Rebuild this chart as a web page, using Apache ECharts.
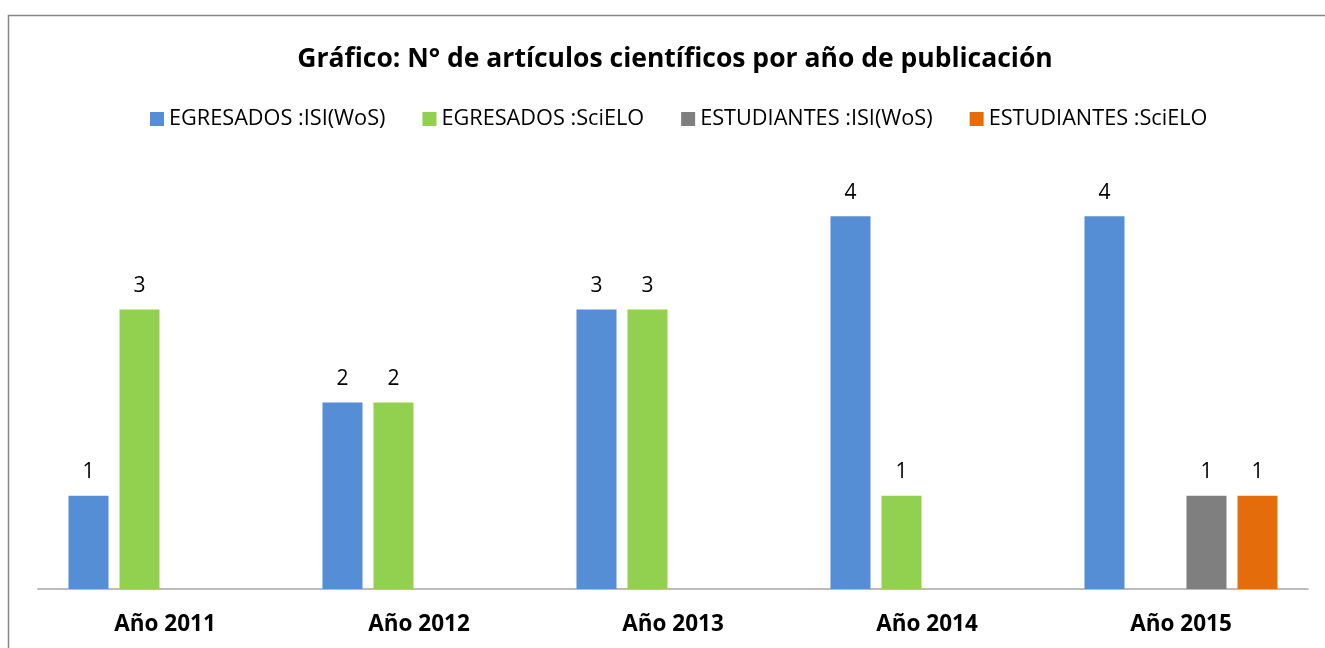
<!DOCTYPE html>
<html><head><meta charset="utf-8">
<script src="https://cdn.jsdelivr.net/npm/echarts@6/dist/echarts.min.js"></script>
<style>html,body{margin:0;padding:0;background:#fff}#c{width:1325px;height:648px}</style>
</head><body><div id="c"></div>
<script>
const categories = ['Año 2011','Año 2012','Año 2013','Año 2014','Año 2015'];
const seriesNames = ['EGRESADOS :ISI(WoS)','EGRESADOS :SciELO','ESTUDIANTES :ISI(WoS)','ESTUDIANTES :SciELO'];
const egresadosISI = [1,2,3,4,4];
const egresadosSciELO = [3,2,3,1,0];
const estudiantesISI = [0,0,0,0,1];
const estudiantesSciELO = [0,0,0,0,1];
const colors = ['#558ED5','#92D050','#7F7F7F','#E46C0A'];
const values = [egresadosISI, egresadosSciELO, estudiantesISI, estudiantesSciELO];
const font = '"Open Sans", Calibri, sans-serif';
const chart = echarts.init(document.getElementById('c'));
chart.setOption({
  animation:false,
  textStyle:{fontFamily:font},
  graphic:[{type:'rect',shape:{x:8.5,y:15.5,width:1400,height:700},style:{fill:'none',stroke:'#868686',lineWidth:1.5},silent:true}],
  title:{text:'Gráfico: N° de artículos científicos por año de publicación',left:670,textAlign:'center',top:41,
    textStyle:{fontFamily:font,fontSize:26.5,fontWeight:'bold',color:'#000'}},
  legend:{top:103,left:145,itemWidth:14,itemHeight:14,itemGap:37,icon:'rect',
    textStyle:{fontFamily:font,fontSize:21.7,color:'#000'},data:seriesNames},
  grid:{left:38,right:17,top:123,bottom:59},
  xAxis:{type:'category',data:categories,axisTick:{show:false},
    axisLine:{lineStyle:{color:'#A6A6A6',width:1.5}},
    axisLabel:{fontFamily:font,fontSize:22.5,fontWeight:'bold',color:'#000',margin:24}},
  yAxis:{type:'value',min:0,max:5,show:false,splitLine:{show:false}},
  series: seriesNames.map((n,i)=>({
    name:n,type:'bar',data:values[i],barGap:'27.5%',barCategoryGap:'24%',
    itemStyle:{color:colors[i]},
    label:{show:true,position:'top',distance:13,fontFamily:font,fontSize:21,color:'#000',
      formatter:p=>p.value===0?'':String(p.value)}
  }))
});
</script></body></html>
